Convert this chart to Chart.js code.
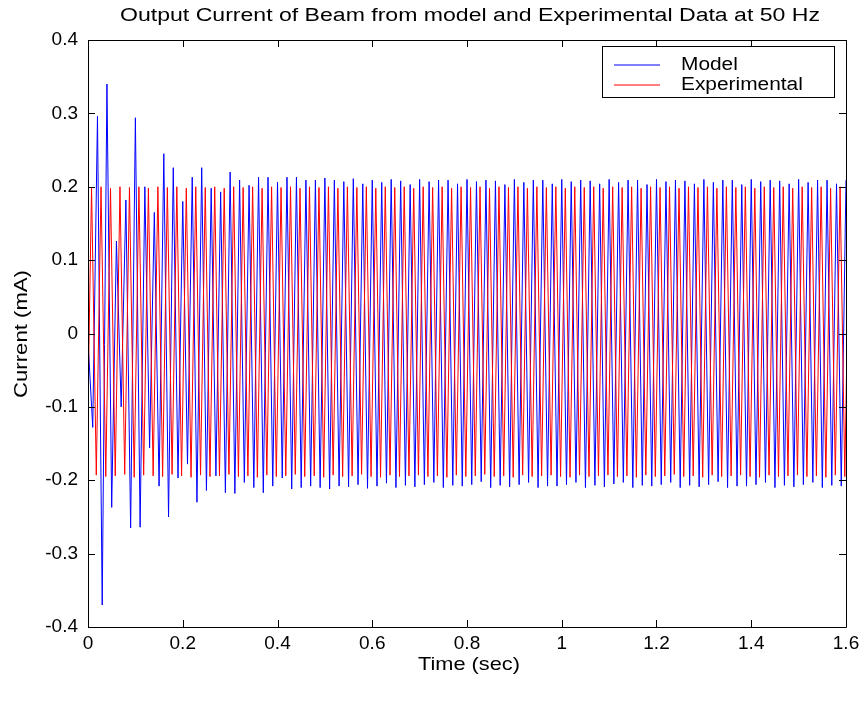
<!DOCTYPE html>
<html><head><meta charset="utf-8">
<script src="https://cdn.jsdelivr.net/npm/chart.js@4/dist/chart.umd.min.js"></script>
<style>html,body{margin:0;padding:0;background:#fff;}#wrap{width:867px;height:705px;}</style>
</head><body><div id="wrap"><canvas id="c" width="867" height="705"></canvas></div>
<script>
const titleText = "Output Current of Beam from model and Experimental Data at 50 Hz";
const xLabel = "Time (sec)";
const yLabel = "Current (mA)";
const seriesNames = ["Model", "Experimental"];
const seriesColors = ["#0000ff", "#ff0000"];
const xTickValues = [0, 0.2, 0.4, 0.6, 0.8, 1, 1.2, 1.4, 1.6];
const xTickLabels = ["0", "0.2", "0.4", "0.6", "0.8", "1", "1.2", "1.4", "1.6"];
const yTickValues = [-0.4, -0.3, -0.2, -0.1, 0, 0.1, 0.2, 0.3, 0.4];
const yTickLabels = ["-0.4", "-0.3", "-0.2", "-0.1", "0", "0.1", "0.2", "0.3", "0.4"];

// sample times: half-period grid (s)
const sampleStep = 0.01;
const modelStart = 0;
const expStart = -0.0025;

// Model current (mA), successive half-cycle extremes
const modelCurrent = [
 -0.010, -0.128, 0.296, -0.370, 0.340, -0.237, 0.126, -0.100, 0.182, -0.265,
  0.294, -0.264, 0.200, -0.156, 0.165, -0.208, 0.245, -0.250, 0.226, -0.197,
  0.180, -0.178, 0.213, -0.230, 0.226, -0.214, 0.198, -0.194, 0.193, -0.217,
  0.220, -0.218, 0.209, -0.203, 0.202, -0.210, 0.213, -0.217, 0.213, -0.208,
  0.206, -0.197, 0.213, -0.212, 0.213, -0.210, 0.209, -0.208, 0.209, -0.210,
  0.212, -0.212, 0.209, -0.208, 0.207, -0.209, 0.211, -0.206, 0.204, -0.211,
  0.209, -0.208, 0.206, -0.204, 0.210, -0.210, 0.208, -0.207, 0.203, -0.209,
  0.210, -0.206, 0.207, -0.203, 0.209, -0.210, 0.209, -0.207, 0.204, -0.208,
  0.210, -0.206, 0.207, -0.202, 0.209, -0.210, 0.208, -0.207, 0.203, -0.209,
  0.210, -0.206, 0.206, -0.203, 0.209, -0.210, 0.209, -0.208, 0.204, -0.208,
  0.210, -0.206, 0.207, -0.203, 0.209, -0.210, 0.208, -0.207, 0.204, -0.209,
  0.210, -0.205, 0.206, -0.203, 0.209, -0.210, 0.209, -0.207, 0.203, -0.208,
  0.210, -0.206, 0.207, -0.203, 0.209, -0.210, 0.208, -0.207, 0.204, -0.209,
  0.210, -0.206, 0.206, -0.202, 0.209, -0.210, 0.209, -0.208, 0.203, -0.208,
  0.210, -0.206, 0.207, -0.203, 0.209, -0.210, 0.208, -0.207, 0.204, -0.209,
  0.210, -0.206, 0.206, -0.203, 0.209, -0.210, 0.209, -0.207, 0.204, -0.208,
  0.209
];

// Experimental current (mA), successive half-cycle extremes
const expCurrent = [
 -0.192, 0.199, -0.193, 0.200, -0.195, 0.198, -0.194, 0.200, -0.192, 0.199,
 -0.196, 0.200, -0.193, 0.198, -0.194, 0.200, -0.195, 0.199, -0.192, 0.200,
 -0.194, 0.198, -0.196, 0.200, -0.193, 0.199, -0.195, 0.200, -0.194, 0.198,
 -0.192, 0.200, -0.195, 0.199, -0.194, 0.200, -0.196, 0.198, -0.193, 0.200,
 -0.195, 0.199, -0.194, 0.200, -0.192, 0.198, -0.195, 0.200, -0.194, 0.199,
 -0.196, 0.200, -0.193, 0.198, -0.195, 0.200, -0.194, 0.199, -0.192, 0.200,
 -0.195, 0.198, -0.196, 0.200, -0.193, 0.199, -0.195, 0.200, -0.194, 0.198,
 -0.193, 0.200, -0.195, 0.199, -0.194, 0.200, -0.196, 0.198, -0.193, 0.200,
 -0.195, 0.199, -0.194, 0.200, -0.192, 0.198, -0.195, 0.200, -0.194, 0.199,
 -0.196, 0.200, -0.193, 0.198, -0.195, 0.200, -0.194, 0.199, -0.193, 0.200,
 -0.195, 0.198, -0.196, 0.200, -0.193, 0.199, -0.195, 0.200, -0.194, 0.198,
 -0.193, 0.200, -0.195, 0.199, -0.194, 0.200, -0.196, 0.198, -0.193, 0.200,
 -0.195, 0.199, -0.194, 0.200, -0.192, 0.198, -0.195, 0.200, -0.194, 0.199,
 -0.196, 0.200, -0.193, 0.198, -0.195, 0.200, -0.194, 0.199, -0.193, 0.200,
 -0.195, 0.198, -0.196, 0.200, -0.193, 0.199, -0.195, 0.200, -0.194, 0.198,
 -0.193, 0.200, -0.195, 0.199, -0.194, 0.200, -0.196, 0.198, -0.193, 0.200,
 -0.195, 0.199
];

const FONT = '"Liberation Sans", Arial, sans-serif';
const TEXT_STRETCH = 1.16;

function toPoints(values, start) {
  return values.map((v, i) => ({ x: start + i * sampleStep, y: v }));
}

function stretchedText(ctx, text, x, y, k, align) {
  ctx.save();
  ctx.translate(x, y);
  ctx.scale(k, 1);
  ctx.textAlign = align || 'center';
  ctx.fillText(text, 0, 0);
  ctx.restore();
}
function fitText(ctx, text, x, y, targetWidth) {
  stretchedText(ctx, text, x, y, targetWidth / ctx.measureText(text).width, 'center');
}

const frame = {
  id: 'frame',
  afterDatasetsDraw(chart) {
    const ctx = chart.ctx;
    const a = chart.chartArea;
    const xs = chart.scales.x, ys = chart.scales.y;
    ctx.save();
    ctx.strokeStyle = '#000';
    ctx.lineWidth = 1;
    ctx.beginPath();
    ctx.rect(Math.round(a.left) + 0.5, Math.round(a.top) + 0.5, Math.round(a.right - a.left), Math.round(a.bottom - a.top));
    ctx.stroke();
    const tl = 7;
    ctx.beginPath();
    xTickValues.forEach(v => {
      const px = Math.round(xs.getPixelForValue(v)) + 0.5;
      ctx.moveTo(px, a.bottom); ctx.lineTo(px, a.bottom - tl);
      ctx.moveTo(px, a.top); ctx.lineTo(px, a.top + tl);
    });
    yTickValues.forEach(v => {
      const py = Math.round(ys.getPixelForValue(v)) + 0.5;
      ctx.moveTo(a.left, py); ctx.lineTo(a.left + tl, py);
      ctx.moveTo(a.right, py); ctx.lineTo(a.right - tl, py);
    });
    ctx.stroke();

    // legend
    const lx = 602, ly = 46, lw = 232, lh = 51;
    ctx.fillStyle = '#fff';
    ctx.fillRect(lx, ly, lw, lh);
    ctx.strokeRect(lx + 0.5, ly + 0.5, lw, lh);
    ctx.font = '18px ' + FONT;
    ctx.textBaseline = 'middle';
    const rows = [64.5, 84.5];
    seriesNames.forEach((n, i) => {
      ctx.strokeStyle = seriesColors[i];
      ctx.beginPath();
      ctx.moveTo(614, rows[i] + 0.5); ctx.lineTo(660, rows[i] + 0.5);
      ctx.stroke();
      ctx.fillStyle = '#000';
      stretchedText(ctx, n, 681, rows[i] + 1, TEXT_STRETCH, 'left');
    });
    ctx.restore();
  },
  afterDraw(chart) {
    const ctx = chart.ctx;
    ctx.save();
    ctx.fillStyle = '#000';
    ctx.textBaseline = 'middle';
    ctx.font = '18px ' + FONT;
    fitText(ctx, titleText, 470, 16, 700);
    ctx.font = '19px ' + FONT;
    fitText(ctx, xLabel, 469, 665, 102);
    ctx.translate(22, 334);
    ctx.rotate(-Math.PI / 2);
    fitText(ctx, yLabel, 0, 0, 128);
    ctx.restore();
  }
};

new Chart(document.getElementById('c'), {
  type: 'line',
  data: {
    datasets: [
      { label: seriesNames[0], data: toPoints(modelCurrent, modelStart), borderColor: seriesColors[0], borderWidth: 1, pointRadius: 0, tension: 0, fill: false, order: 2 },
      { label: seriesNames[1], data: toPoints(expCurrent, expStart), borderColor: seriesColors[1], borderWidth: 1, pointRadius: 0, tension: 0, fill: false, order: 1 }
    ]
  },
  options: {
    responsive: false,
    animation: false,
    devicePixelRatio: 1,
    layout: { padding: { left: 0, top: 40, right: 21, bottom: 0 } },
    plugins: { legend: { display: false }, title: { display: false }, tooltip: { enabled: false } },
    scales: {
      x: {
        type: 'linear', min: 0, max: 1.6,
        afterFit(s) { s.height = 78; },
        afterBuildTicks(s) { s.ticks = xTickValues.map(v => ({ value: v })); },
        ticks: { font: { family: FONT, size: 19 }, color: '#000', padding: 5, maxRotation: 0, autoSkip: false,
          callback: (v) => xTickLabels[xTickValues.indexOf(v)] },
        grid: { display: false, drawTicks: false },
        border: { display: false }
      },
      y: {
        type: 'linear', min: -0.4, max: 0.4,
        afterFit(s) { s.width = 88; },
        afterBuildTicks(s) { s.ticks = yTickValues.map(v => ({ value: v })); },
        ticks: { font: { family: FONT, size: 19 }, color: '#000', padding: 10, autoSkip: false,
          callback: (v) => yTickLabels[yTickValues.indexOf(v)] },
        grid: { display: false, drawTicks: false },
        border: { display: false }
      }
    }
  },
  plugins: [frame]
});
</script>
</body></html>
